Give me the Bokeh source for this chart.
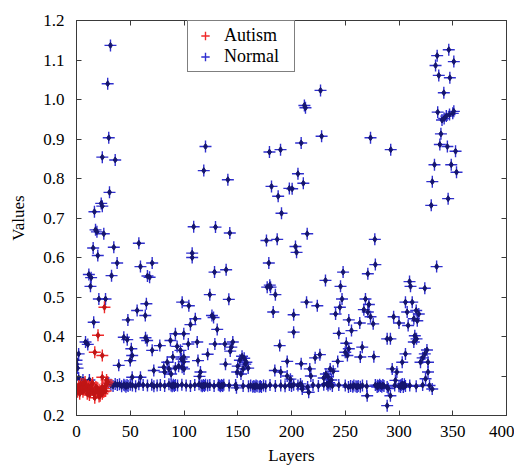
from bokeh.plotting import figure
from bokeh.models import (Range1d, LinearAxis, FixedTicker, Legend, LegendItem,
                          ColumnDataSource, PrintfTickFormatter, CustomJSTickFormatter)
from bokeh.embed import file_html
from bokeh.resources import INLINE

# ---------------- data ----------------
x_ticks = [0, 50, 100, 150, 200, 250, 300, 350, 400]
y_ticks = [0.2, 0.3, 0.4, 0.5, 0.6, 0.7, 0.8, 0.9, 1.0, 1.1, 1.2]

normal_high = [
    (31.6, 1.137), (29, 1.04), (30, 0.903), (24, 0.854), (36, 0.847), (30.7, 0.765),
    (23, 0.737), (24, 0.73), (16.7, 0.716), (17.7, 0.67), (19, 0.665), (25.4, 0.66),
    (15.5, 0.624), (19.8, 0.605), (34.7, 0.626), (37.8, 0.586), (32.6, 0.554),
    (11.5, 0.557), (13.6, 0.549), (13, 0.527), (58, 0.636), (59.5, 0.577),
    (70.4, 0.586), (68, 0.55), (66, 0.553),
    (120, 0.881), (118.4, 0.82), (140.8, 0.797), (109, 0.678), (129.3, 0.677),
    (142.6, 0.662), (107.6, 0.611), (107.6, 0.6), (128.4, 0.563), (139.2, 0.569),
    (179.5, 0.867), (189.8, 0.873), (181.4, 0.78), (187.6, 0.755), (190.7, 0.712),
    (176.7, 0.643), (186.7, 0.646), (178.9, 0.586), (179.8, 0.53), (177.4, 0.525),
    (198, 0.775),
    (227, 1.023), (212, 0.985), (213, 0.979), (209, 0.89), (228, 0.907),
    (273.5, 0.903), (292.3, 0.873), (206, 0.812), (211, 0.788), (200.6, 0.774),
    (214.6, 0.66), (203.7, 0.628), (204.7, 0.613), (277.5, 0.646), (278, 0.582),
    (271, 0.559), (248, 0.563), (231.6, 0.542), (245.6, 0.527), (309.8, 0.539),
    (310.7, 0.527), (324, 0.522), (335, 0.577),
    (346.3, 1.126), (335.5, 1.111), (351, 1.096), (334, 1.086), (337, 1.061),
    (347.3, 1.055), (341.7, 1.017), (336, 0.968), (340, 0.948), (342, 0.952),
    (344, 0.958), (347, 0.962), (350, 0.965), (351, 0.97), (339, 0.913),
    (338, 0.886), (345, 0.881), (352.6, 0.869), (333, 0.835), (348.6, 0.835),
    (353.5, 0.816), (331, 0.792), (345.7, 0.749), (330, 0.732),
]

normal_mid = [
    (20.8, 0.495), (27, 0.495), (16, 0.436), (8.4, 0.386), (10.5, 0.38), (2, 0.356),
    (0, 0.34), (0, 0.33), (1, 0.32), (2, 0.295), (6, 0.29), (12, 0.29),
    (65, 0.483), (56.4, 0.466), (64, 0.453), (47.8, 0.442), (44, 0.398), (47.2, 0.392),
    (51, 0.369), (51.8, 0.352), (50, 0.339), (64.2, 0.397), (65.7, 0.39), (70.4, 0.365),
    (77.5, 0.377), (39.3, 0.327), (51.8, 0.297), (59.5, 0.297), (71.9, 0.314),
    (81.2, 0.322), (84.4, 0.335), (82, 0.31), (86, 0.318), (88, 0.305),
    (98.3, 0.487), (104.5, 0.478), (124, 0.506), (141.7, 0.494), (126, 0.453),
    (127.5, 0.448), (110.5, 0.445), (106, 0.43), (130.9, 0.418), (92, 0.407),
    (99.8, 0.407), (104, 0.381), (112.3, 0.386), (87.4, 0.39), (93.6, 0.375),
    (96.7, 0.365), (89.6, 0.348), (99.8, 0.348), (128.7, 0.381), (138, 0.381),
    (145.4, 0.386), (144, 0.373), (143, 0.363), (122, 0.355), (138.6, 0.33),
    (113, 0.339), (97.7, 0.343), (99.8, 0.336), (98.3, 0.322), (92, 0.32), (95, 0.325),
    (100, 0.318), (115.3, 0.31), (114.4, 0.299), (148.8, 0.27), (149.5, 0.31),
    (150, 0.325), (152, 0.34), (154, 0.35), (156, 0.345), (157, 0.33), (155, 0.318),
    (153, 0.305), (159.7, 0.32), (158, 0.335),
    (180.5, 0.525), (185, 0.506), (183, 0.462), (184.5, 0.314), (189, 0.377),
    (214, 0.487), (224, 0.478), (202, 0.455), (202, 0.411), (247, 0.495), (245, 0.474),
    (241, 0.457), (268.8, 0.495), (272, 0.481), (267.3, 0.468), (271, 0.462),
    (273.5, 0.45), (276, 0.432), (263.5, 0.434), (253.3, 0.442), (255.8, 0.415),
    (244, 0.408), (289, 0.394), (251, 0.383), (253.3, 0.369), (250, 0.36), (252, 0.352),
    (265.8, 0.373), (264, 0.348), (276.6, 0.349), (222, 0.346), (226.4, 0.354),
    (243, 0.337), (236, 0.318), (238.8, 0.312), (232, 0.305), (234, 0.298), (237, 0.29),
    (230, 0.295), (209, 0.331), (217, 0.318), (196, 0.337), (190, 0.31), (196, 0.3),
    (199, 0.292), (218, 0.3), (208.4, 0.28), (210, 0.267), (216, 0.259), (270.4, 0.25),
    (289, 0.225), (279.7, 0.272),
    (306, 0.487), (312.3, 0.487), (307.6, 0.462), (316, 0.466), (318.4, 0.457),
    (313.8, 0.445), (317, 0.44), (295, 0.45), (300, 0.434), (308.5, 0.428), (292, 0.394),
    (314.7, 0.402), (316.3, 0.394), (313.8, 0.386), (306, 0.356), (303, 0.335),
    (326, 0.366), (324, 0.356), (322, 0.346), (320, 0.335), (327, 0.335), (293.7, 0.318),
    (298, 0.31), (327, 0.31), (324.7, 0.293), (328.4, 0.276), (330.9, 0.267),
    (296.7, 0.289), (303, 0.28), (301.4, 0.272), (289, 0.272), (292, 0.25),
]

baseline_x = [
    30, 32, 34, 36, 38, 40, 42, 44, 45, 46,
    47, 48, 50, 52, 55, 58, 62, 66, 70, 72,
    75, 78, 82, 86, 88, 89, 90, 91, 92, 94,
    98, 102, 106, 110, 114, 116, 117, 118, 119, 120,
    122, 124, 128, 132, 133, 134, 135, 136, 137, 142,
    148, 155, 160, 162, 164, 165, 166, 167, 168, 170,
    171, 172, 174, 176, 180, 185, 190, 194, 198, 200,
    202, 206, 210, 215, 220, 225, 230, 233, 234, 235,
    236, 238, 244, 250, 253, 255, 257, 258, 260, 261,
    262, 264, 266, 270, 278, 280, 281, 282, 283, 284,
    285, 286, 290, 296, 300, 302, 304, 305, 306, 310,
    316, 322]
baseline_y = [
    0.282, 0.278, 0.275, 0.280, 0.277, 0.279, 0.274, 0.278, 0.276, 0.273,
    0.277, 0.275, 0.278, 0.276, 0.274, 0.279, 0.277, 0.276, 0.278, 0.274,
    0.276, 0.277, 0.275, 0.279, 0.276, 0.274, 0.278, 0.275, 0.277, 0.276,
    0.278, 0.276, 0.275, 0.277, 0.279, 0.276, 0.274, 0.277, 0.275, 0.278,
    0.276, 0.277, 0.275, 0.278, 0.276, 0.274, 0.277, 0.275, 0.278, 0.276,
    0.277, 0.275, 0.274, 0.276, 0.273, 0.275, 0.272, 0.276, 0.274, 0.273,
    0.275, 0.272, 0.276, 0.274, 0.277, 0.275, 0.276, 0.274, 0.277, 0.275,
    0.278, 0.276, 0.274, 0.272, 0.277, 0.275, 0.278, 0.280, 0.276, 0.283,
    0.279, 0.275, 0.277, 0.276, 0.272, 0.275, 0.273, 0.276, 0.274, 0.272,
    0.275, 0.273, 0.276, 0.274, 0.277, 0.276, 0.274, 0.278, 0.275, 0.273,
    0.277, 0.275, 0.268, 0.276, 0.274, 0.277, 0.272, 0.279, 0.275, 0.276,
    0.274, 0.277]

autism = [
    (26, 0.474), (20, 0.403), (17, 0.36), (24, 0.352), (24, 0.297), (28, 0.29),
    (0, 0.27), (1, 0.26), (2, 0.275), (3, 0.265), (4, 0.28), (5, 0.27), (6, 0.26),
    (7, 0.272), (8, 0.285), (9, 0.265), (10, 0.255), (11, 0.275), (12, 0.268),
    (13, 0.26), (14, 0.278), (15, 0.265), (16, 0.255), (17, 0.245), (18, 0.26),
    (19, 0.27), (20, 0.258), (21, 0.265), (22, 0.25), (23, 0.262), (24, 0.272),
    (25, 0.26), (26, 0.268), (27, 0.275), (28, 0.28), (3, 0.255), (6, 0.28),
    (9, 0.276), (12, 0.252), (15, 0.282), (18, 0.272), (21, 0.248), (24, 0.255),
    (27, 0.262), (29, 0.285),
]

# ---------------- build ----------------
normal_x = [p[0] for p in normal_high + normal_mid] + baseline_x
normal_y = [p[1] for p in normal_high + normal_mid] + baseline_y
autism_x = [p[0] for p in autism]
autism_y = [p[1] for p in autism]

FONT = "Liberation Serif"
AX = "#3a3a3a"

p = figure(width=514, height=472, output_backend="svg", toolbar_location=None,
           x_range=Range1d(0, 400), y_range=Range1d(0.2, 1.2),
           min_border_left=76, min_border_right=8, min_border_top=20,
           min_border_bottom=57)
p.xgrid.visible = False
p.ygrid.visible = False
p.outline_line_color = AX
p.background_fill_color = "white"

nsrc = ColumnDataSource(dict(x=normal_x, y=normal_y))
asrc = ColumnDataSource(dict(x=autism_x, y=autism_y))

n_cross = p.scatter("x", "y", source=nsrc, marker="cross", size=12,
                    line_color="#2f2fd0", line_width=1.4)
p.scatter("x", "y", source=nsrc, marker="diamond", size=6, fill_color="#15156e",
          line_color="#15156e")
a_cross = p.scatter("x", "y", source=asrc, marker="cross", size=12,
                    line_color="#f02a2a", line_width=1.4)
p.scatter("x", "y", source=asrc, marker="diamond", size=6, fill_color="#c01515",
          line_color="#c01515")

legend = Legend(items=[LegendItem(label="Autism", renderers=[a_cross]),
                       LegendItem(label="Normal", renderers=[n_cross])],
                location=(111, 343), orientation="vertical",
                label_text_font=FONT, label_text_font_size="18px",
                label_text_color="black", border_line_color="black",
                border_line_width=1, background_fill_alpha=1,
                padding=4, spacing=0, margin=0, label_height=21, glyph_height=21,
                glyph_width=26, label_standoff=6, label_width=66)
p.add_layout(legend, "center")

for ax in p.xaxis:
    ax.ticker = FixedTicker(ticks=x_ticks)
    ax.formatter = PrintfTickFormatter(format="%d")
for ax in p.yaxis:
    ax.ticker = FixedTicker(ticks=y_ticks)
    ax.formatter = PrintfTickFormatter(format="%.1f")

for ax in list(p.xaxis) + list(p.yaxis):
    ax.major_tick_in = 5
    ax.major_tick_out = 0
    ax.minor_tick_line_color = None
    ax.axis_line_color = AX
    ax.major_tick_line_color = AX
    ax.major_label_text_font = FONT
    ax.major_label_text_font_size = "17px"
    ax.major_label_text_color = "black"
    ax.axis_label_text_font = FONT
    ax.axis_label_text_font_size = "17px"
    ax.axis_label_text_font_style = "normal"
    ax.axis_label_text_color = "black"

p.xaxis.major_label_standoff = 10
p.yaxis.major_label_standoff = 12
p.xaxis.axis_label = "Layers"
p.yaxis.axis_label = "Values"
p.xaxis.axis_label_standoff = 6
p.yaxis.axis_label_standoff = 12

blank = CustomJSTickFormatter(code="return ''")
top = LinearAxis(ticker=FixedTicker(ticks=x_ticks), formatter=blank,
                 major_tick_in=5, major_tick_out=0,
                 minor_tick_line_color=None, axis_line_color=AX,
                 major_tick_line_color=AX, major_label_text_font_size="1px",
                 major_label_standoff=0)
right = LinearAxis(ticker=FixedTicker(ticks=y_ticks), formatter=blank,
                   major_tick_in=5, major_tick_out=0,
                   minor_tick_line_color=None, axis_line_color=AX,
                   major_tick_line_color=AX, major_label_text_font_size="1px",
                   major_label_standoff=0)
p.add_layout(top, "above")
p.add_layout(right, "right")

open("out.html", "w").write(file_html(p, INLINE))
